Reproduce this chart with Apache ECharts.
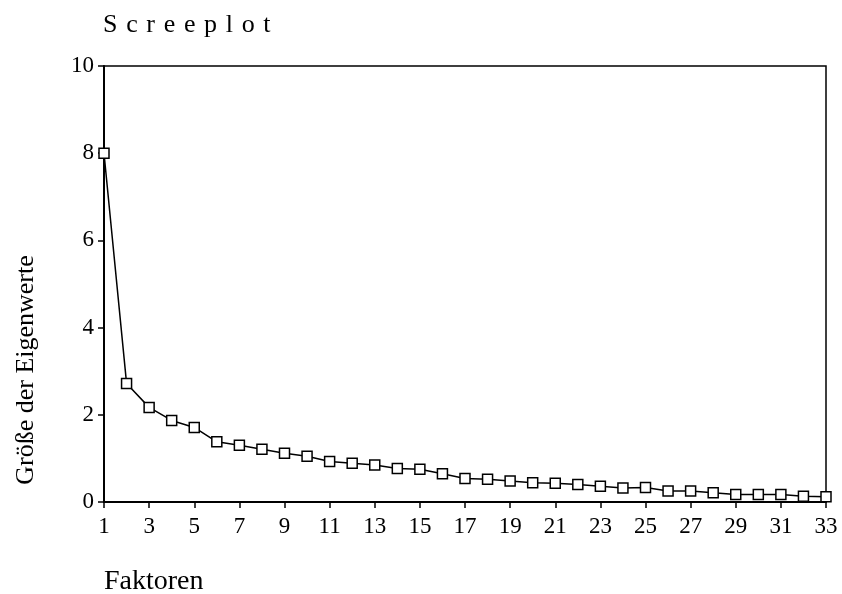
<!DOCTYPE html>
<html>
<head>
<meta charset="utf-8">
<script src="https://cdn.jsdelivr.net/npm/echarts@6/dist/echarts.min.js"></script>
<style>
  html, body { margin: 0; padding: 0; background: #fff; }
  #chart { width: 842px; height: 594px; }
</style>
</head>
<body>
<div id="chart"></div>
<script>
  // Faktoren 1..33
  const factors = ['1','2','3','4','5','6','7','8','9','10','11','12','13','14','15','16','17',
    '18','19','20','21','22','23','24','25','26','27','28','29','30','31','32','33'];
  // Eigenwerte
  const eigenvalues = [8.0, 2.72, 2.17, 1.87, 1.71, 1.38, 1.30, 1.21, 1.12, 1.05, 0.93,
    0.89, 0.85, 0.77, 0.75, 0.65, 0.54, 0.52, 0.48, 0.44, 0.43, 0.40, 0.36, 0.32, 0.33,
    0.25, 0.25, 0.21, 0.17, 0.17, 0.17, 0.13, 0.12];
  const yTicks = [0, 2, 4, 6, 8, 10];

  const font = '"Liberation Serif", "DejaVu Serif", serif';
  const sp = '\u2004'; // gesperrter Titel

  let option = {
    backgroundColor: '#fff',
    animation: false,
    grid: {
      left: 104,
      right: 16,
      top: 66,
      bottom: 92,
      show: true,
      borderColor: '#000',
      borderWidth: 1.5,
      backgroundColor: 'transparent'
    },
    xAxis: {
      type: 'category',
      data: factors,
      boundaryGap: false,
      axisLine: { lineStyle: { color: '#000', width: 2 } },
      axisTick: { show: true, interval: 1, length: 6, inside: false, lineStyle: { color: '#000', width: 1.5 } },
      axisLabel: { interval: 1, color: '#000', fontFamily: font, fontSize: 23, margin: 13 },
      splitLine: { show: false }
    },
    yAxis: {
      type: 'value',
      min: yTicks[0],
      max: yTicks[yTicks.length - 1],
      interval: 2,
      axisLine: { show: true, lineStyle: { color: '#000', width: 2 } },
      axisTick: { show: true, length: 6, lineStyle: { color: '#000', width: 1.5 } },
      axisLabel: { color: '#000', fontFamily: font, fontSize: 23, margin: 10 },
      splitLine: { show: false }
    },
    graphic: [
      {
        type: 'text',
        x: 103,
        y: 25,
        style: {
          text: ['S','c','r','e','e','p','l','o','t'].join(sp),
          font: '26px ' + font,
          fill: '#000',
          align: 'left',
          verticalAlign: 'middle'
        }
      },
      {
        type: 'text',
        x: 26,
        y: 370,
        rotation: Math.PI / 2,
        style: {
          text: 'Größe der Eigenwerte',
          font: '26px ' + font,
          fill: '#000',
          align: 'center',
          verticalAlign: 'middle'
        }
      },
      {
        type: 'text',
        x: 104,
        y: 582,
        style: {
          text: 'Faktoren',
          font: '28px ' + font,
          fill: '#000',
          align: 'left',
          verticalAlign: 'middle'
        }
      }
    ],
    series: [{
      type: 'line',
      data: eigenvalues,
      symbol: 'rect',
      symbolSize: 10,
      lineStyle: { color: '#000', width: 1.5 },
      itemStyle: { color: '#fff', borderColor: '#000', borderWidth: 1.5 },
      z: 3
    }]
  };

  let echartDom = echarts.init(document.getElementById('chart'));
  echartDom.setOption(option);
</script>
</body>
</html>
